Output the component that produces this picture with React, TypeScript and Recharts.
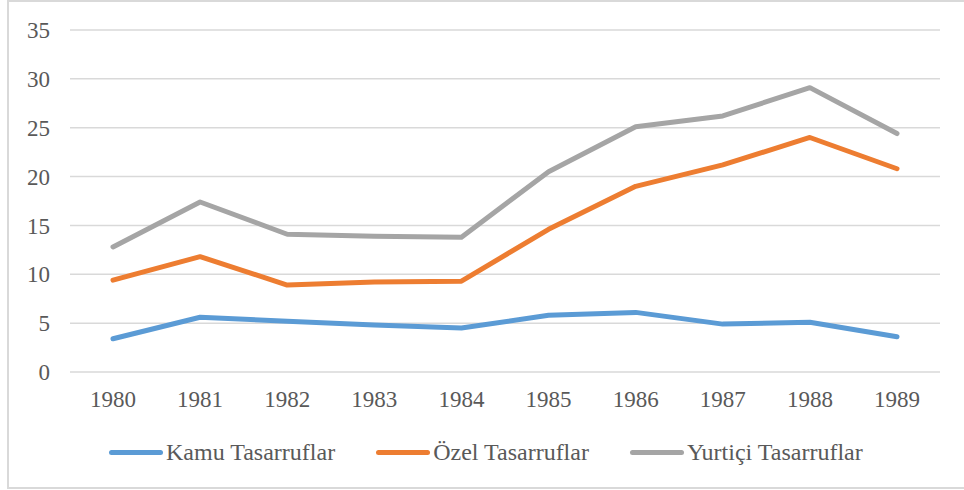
import React from "react";
import { LineChart, Line, XAxis, YAxis, CartesianGrid } from "recharts";

const years = ["1980", "1981", "1982", "1983", "1984", "1985", "1986", "1987", "1988", "1989"];
const kamu = [3.4, 5.6, 5.2, 4.8, 4.5, 5.8, 6.1, 4.9, 5.1, 3.6];
const ozel = [9.4, 11.8, 8.9, 9.2, 9.3, 14.6, 19.0, 21.2, 24.0, 20.8];
const yurtici = [12.8, 17.4, 14.1, 13.9, 13.8, 20.5, 25.1, 26.2, 29.1, 24.4];
const yTicks = [0, 5, 10, 15, 20, 25, 30, 35];

const seriesNames = ["Kamu Tasarruflar", "Özel Tasarruflar", "Yurtiçi Tasarruflar"];
const seriesKeys = ["kamu", "ozel", "yurtici"];
const seriesColors = ["#5B9BD5", "#ED7D31", "#A5A5A5"];

const data = years.map((y, i) => ({
  year: y,
  kamu: kamu[i],
  ozel: ozel[i],
  yurtici: yurtici[i],
}));

const FONT = "Liberation Serif, DejaVu Serif, serif";
const TEXT = "#595959";

export default function App() {
  return (
    <div style={{ position: "absolute", left: 0, top: 0, width: 964, height: 490, background: "#fff", overflow: "hidden" }}>
      <div
        style={{
          position: "absolute",
          left: 7,
          top: 0,
          width: 970,
          height: 489,
          border: "2px solid #d9d9d9",
          boxSizing: "border-box",
        }}
      />
      <div style={{ position: "absolute", left: 0, top: 0 }}>
        <LineChart width={964} height={489} data={data} margin={{ top: 30, right: 24, left: 20, bottom: 77 }} style={{ fontFamily: FONT }}>
          <CartesianGrid vertical={false} stroke="#d9d9d9" strokeWidth={1.5} />
          <XAxis
            dataKey="year"
            axisLine={false}
            tickLine={false}
            tickSize={0}
            tickMargin={19}
            tick={{ fill: TEXT, fontSize: 23, fontFamily: FONT }}
            interval={0}
            height={40}
            padding={{ left: 43, right: 43 }}
          />
          <YAxis
            domain={[0, 35]}
            ticks={yTicks}
            axisLine={false}
            tickLine={false}
            tickSize={0}
            tickMargin={20}
            width={50}
            tick={{ fill: TEXT, fontSize: 23, fontFamily: FONT }}
          />
          {seriesKeys.map((k, i) => (
            <Line
              key={k}
              type="linear"
              dataKey={k}
              name={seriesNames[i]}
              stroke={seriesColors[i]}
              strokeWidth={5}
              strokeLinecap="round"
              strokeLinejoin="round"
              dot={false}
              activeDot={false}
              isAnimationActive={false}
            />
          ))}
        </LineChart>
      </div>
      <div
        style={{
          position: "absolute",
          top: 437,
          left: 109,
          height: 30,
          display: "flex",
          alignItems: "center",
          fontFamily: FONT,
          fontSize: 24,
          color: TEXT,
        }}
      >
        {seriesNames.map((n, i) => (
          <div key={n} style={{ display: "flex", alignItems: "center", marginRight: 41 }}>
            <span
              style={{
                display: "inline-block",
                width: 54,
                height: 5,
                borderRadius: 3,
                background: seriesColors[i],
                marginRight: 3,
              }}
            />
            <span style={{ whiteSpace: "nowrap" }}>{n}</span>
          </div>
        ))}
      </div>
    </div>
  );
}
